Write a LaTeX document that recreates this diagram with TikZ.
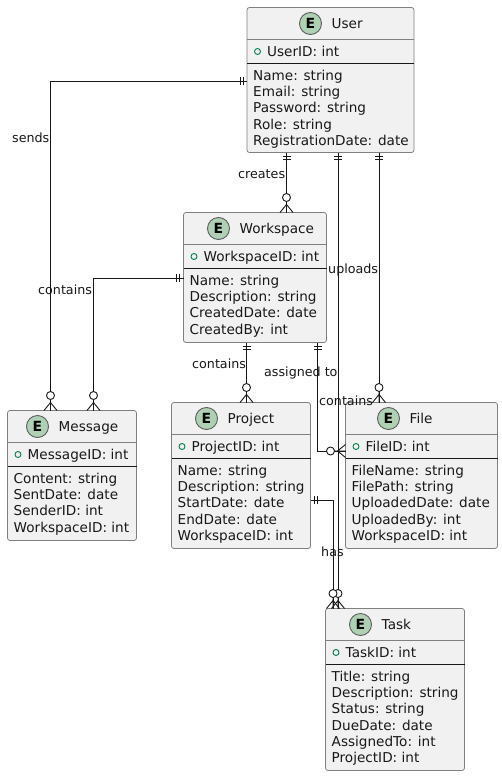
\documentclass[tikz,border=0pt]{standalone}
\usepackage{fontspec}
\setmainfont{DejaVu Sans}
\usetikzlibrary{calc}
\definecolor{boxfill}{HTML}{F1F1F1}
\definecolor{boxline}{HTML}{808080}
\definecolor{spotfill}{HTML}{ADD1B2}
\definecolor{keygreen}{HTML}{038048}
\definecolor{ink}{HTML}{181818}
\tikzset{
  x=1pt,y=-1pt,
  ebox/.style={draw=boxline,fill=boxfill,line width=.8pt,rounded corners=2.5pt,inner sep=0pt,outer sep=0pt,anchor=north west},
  etext/.style={font=\fontsize{13.6}{16}\selectfont,anchor=base west,inner sep=0pt,text=ink},
  elabel/.style={font=\fontsize{12.7}{15}\selectfont,anchor=base west,inner sep=0pt,text=ink},
  conn/.style={draw=ink,line width=.9pt},
  bars/.pic={\draw[conn] (4,-4)--(4,4) (7,-4)--(7,4);},
  crow/.pic={\draw[conn] (0,-6.5)--(8,0)--(0,6.5) (0,0)--(8,0)--(11,0);
             \draw[conn,fill=white] (15,0) circle[radius=4];}
}
% \entity{id}{x}{y}{w}{h}{spot x offset}{title}{key}
\newcommand{\entity}[8]{%
  \node[ebox,minimum width=#4pt,minimum height=#5pt] (#1) at (#2,#3) {};
  \draw[boxline,line width=.8pt] ($(#1.north west)+(0,32)$) -- ($(#1.north east)+(0,32)$);
  \draw[ink,line width=.9pt] ($(#1.north west)+(0,55.5)$) -- ($(#1.north east)+(0,55.5)$);
  \node[circle,draw=ink!70,line width=.9pt,fill=spotfill,minimum size=22pt,inner sep=0pt,font=\fontsize{14}{14}\selectfont\bfseries] (#1spot) at ($(#1.north west)+(#6,16)$) {E};
  \node[etext] (#1title) at ($(#1spot.center)+(21,5)$) {#7};
  \node[circle,draw=keygreen,line width=.9pt,minimum size=6pt,inner sep=0pt] (#1dot) at ($(#1.north west)+(10.5,44)$) {};
  \node[etext] (#1key) at ($(#1.north west)+(20,48.7)$) {#8};
}
\newcommand{\attr}[3]{\node[etext] (#1a#2) at ($(#1.north west)+(6,{72.8+16.25*(#2-1)})$) {#3};}
\begin{document}
\begin{tikzpicture}
\useasboundingbox (0,0) rectangle (502,776);
\fill[white] (0,0) rectangle (502,776);

\entity{user}{247}{7.5}{167}{145}{63.5}{User}{UserID: int}
\attr{user}{1}{Name: string}\attr{user}{2}{Email: string}\attr{user}{3}{Password: string}\attr{user}{4}{Role: string}\attr{user}{5}{RegistrationDate: date}

\entity{work}{183.5}{212.5}{143}{130}{35}{Workspace}{WorkspaceID: int}
\attr{work}{1}{Name: string}\attr{work}{2}{Description: string}\attr{work}{3}{CreatedDate: date}\attr{work}{4}{CreatedBy: int}

\entity{proj}{171.5}{402.5}{139}{146}{35}{Project}{ProjectID: int}
\attr{proj}{1}{Name: string}\attr{proj}{2}{Description: string}\attr{proj}{3}{StartDate: date}\attr{proj}{4}{EndDate: date}\attr{proj}{5}{WorkspaceID: int}

\entity{file}{345.5}{402.5}{152}{146}{43}{File}{FileID: int}
\attr{file}{1}{FileName: string}\attr{file}{2}{FilePath: string}\attr{file}{3}{UploadedDate: date}\attr{file}{4}{UploadedBy: int}\attr{file}{5}{WorkspaceID: int}

\entity{msg}{7.5}{410.5}{129}{130}{30}{Message}{MessageID: int}
\attr{msg}{1}{Content: string}\attr{msg}{2}{SentDate: date}\attr{msg}{3}{SenderID: int}\attr{msg}{4}{WorkspaceID: int}

\entity{task}{325.5}{608.5}{139}{162}{35}{Task}{TaskID: int}
\attr{task}{1}{Title: string}\attr{task}{2}{Description: string}\attr{task}{3}{Status: string}\attr{task}{4}{DueDate: date}\attr{task}{5}{AssignedTo: int}\attr{task}{6}{ProjectID: int}

% link labels
\node[elabel] (l1) at (12,142.5) {sends};
\node[elabel] (l2) at (38,294.5) {contains};
\node[elabel] (l3) at (238,178.5) {creates};
\node[elabel] (l4) at (192,368.5) {contains};
\node[elabel] (l5) at (264,376.5) {assigned to};
\node[elabel] (l6) at (328,273.5) {uploads};
\node[elabel] (l7) at (319,405.5) {contains};
\node[elabel] (l8) at (321,556.5) {has};

% user -> message
\coordinate (c1) at ($(user.north west)+(0,73.5)$);
\coordinate (c2) at ($(msg.north west)+(43,0)$);
\draw[conn] (c1) -- (c1 -| c2) -- (c2);
\pic[rotate=180] at (c1) {bars};
\pic[rotate=90] at (c2) {crow};

% workspace -> message
\coordinate (c3) at ($(work.north west)+(0,65.5)$);
\coordinate (c4) at ($(msg.north west)+(86,0)$);
\draw[conn] (c3) -- (c3 -| c4) -- (c4);
\pic[rotate=180] at (c3) {bars};
\pic[rotate=90] at (c4) {crow};

% user -> workspace
\coordinate (c5) at ($(user.south west)+(39.5,0)$);
\coordinate (c6) at (c5 |- work.north);
\draw[conn] (c5) -- (c6);
\pic[rotate=-90] at (c5) {bars};
\pic[rotate=90] at (c6) {crow};

% workspace -> project
\coordinate (c7) at ($(work.south west)+(63,0)$);
\coordinate (c8) at (c7 |- proj.north);
\draw[conn] (c7) -- (c8);
\pic[rotate=-90] at (c7) {bars};
\pic[rotate=90] at (c8) {crow};

% workspace -> file
\coordinate (c9) at ($(work.south west)+(134,0)$);
\coordinate (c10) at ($(file.north west)+(0,48.5)$);
\draw[conn] (c9) -- (c9 |- c10) -- (c10);
\pic[rotate=-90] at (c9) {bars};
\pic[rotate=180] at (c10) {crow};

% user -> file
\coordinate (c11) at ($(user.south west)+(132,0)$);
\coordinate (c12) at (c11 |- file.north);
\draw[conn] (c11) -- (c12);
\pic[rotate=-90] at (c11) {bars};
\pic[rotate=90] at (c12) {crow};

% user -> task
\coordinate (c13) at ($(user.south west)+(91,0)$);
\coordinate (c14) at (c13 |- task.north);
\draw[conn] (c13) -- (c14);
\pic[rotate=-90] at (c13) {bars};
\pic[rotate=90] at (c14) {crow};

% project -> task
\coordinate (c15) at ($(proj.north east)+(0,97.5)$);
\coordinate (c16) at ($(task.north west)+(7.5,0)$);
\draw[conn] (c15) -- (c15 -| c16) -- (c16);
\pic at (c15) {bars};
\pic[rotate=90] at (c16) {crow};
\end{tikzpicture}
\end{document}
